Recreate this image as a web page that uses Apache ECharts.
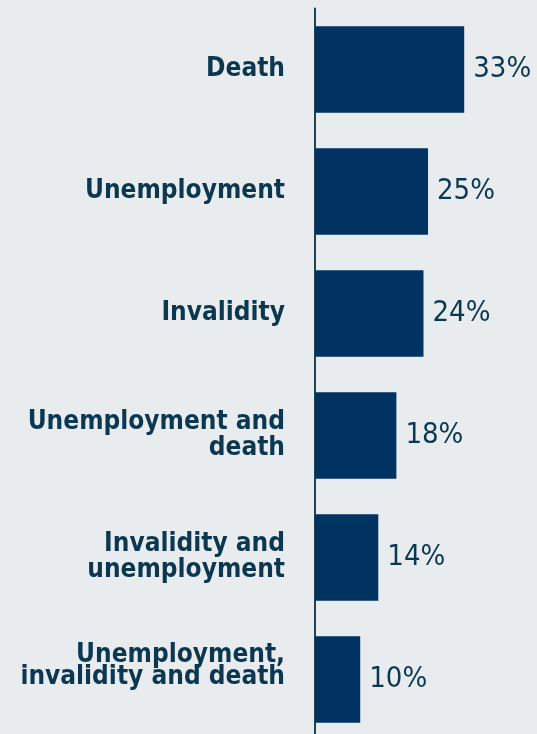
<!DOCTYPE html>
<html>
<head>
<meta charset="utf-8">
<script src="https://cdn.jsdelivr.net/npm/echarts@6/dist/echarts.min.js"></script>
<style>
  html, body { margin: 0; padding: 0; background: #e8ecee; overflow: hidden; }
  /* The canvas runs a little past the bottom edge so the last band is cut off */
  #chart { width: 537px; height: 746px; }
</style>
</head>
<body>
<div id="chart"></div>
<script>
// Risks covered (share, %)
const categories = [
  'Death',
  'Unemployment',
  'Invalidity',
  'Unemployment and\ndeath',
  'Invalidity and\nunemployment',
  'Unemployment,\ninvalidity and death'
];
const values = [33, 25, 24, 18, 14, 10];

const textColor = '#0b3850';
const barColor = '#003262';
const fontFamily = '"DejaVu Sans Condensed", "DejaVu Sans", sans-serif';

const labelFont = {
  color: textColor,
  fontFamily: fontFamily,
  fontWeight: 'bold',
  fontSize: 26
};

const chart = echarts.init(document.getElementById('chart'), null, { renderer: 'canvas' });
chart.setOption({
  backgroundColor: '#e8ecee',
  animation: false,
  grid: { left: 315, right: 5, top: 8.5, height: 732, containLabel: false },
  xAxis: {
    type: 'value',
    min: 0,
    max: 48,
    show: false
  },
  yAxis: {
    type: 'category',
    data: categories,
    inverse: true,
    axisTick: { show: false },
    axisLine: { show: true, lineStyle: { color: '#1c4356', width: 2 } },
    axisLabel: Object.assign({
      margin: 30,
      lineHeight: 26,
      align: 'right',
      // the last label sits higher, with tighter lines
      formatter: (name, i) => i === categories.length - 1
        ? name.split('\n').map(s => '{tight|' + s + '}').join('\n') + '\n{gap| }'
        : name,
      rich: {
        tight: Object.assign({ lineHeight: 22, align: 'right' }, labelFont),
        gap: { lineHeight: 26, fontSize: 10 }
      }
    }, labelFont)
  },
  series: [{
    type: 'bar',
    data: values,
    barCategoryGap: '29%',
    itemStyle: { color: barColor },
    label: {
      show: true,
      position: 'right',
      distance: 9,
      color: textColor,
      fontFamily: fontFamily,
      fontSize: 29,
      formatter: p => p.value + '%'
    }
  }]
});
</script>
</body>
</html>
